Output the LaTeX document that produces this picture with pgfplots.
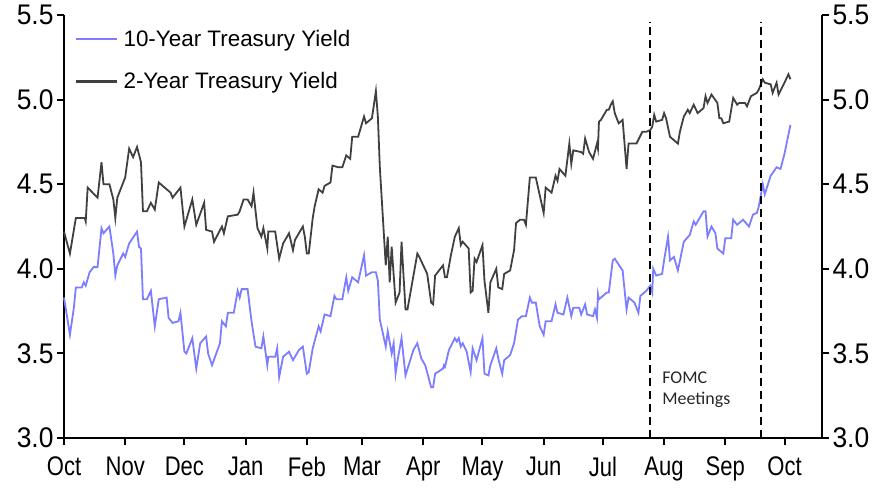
\documentclass[border=0pt]{standalone}
\usepackage{pgfplots}
\pgfplotsset{compat=1.18}
\usepackage{pgfplotstable}
\usepackage{fontspec}
\setmainfont{Liberation Sans}
\newfontfamily\xticksfont[FakeStretch=0.82]{Liberation Sans}
\newfontfamily\yticksfont[FakeStretch=0.93]{Liberation Sans}
\newfontfamily\fomcfont{Carlito}
\definecolor{tenyr}{RGB}{125,125,255}
\definecolor{twoyr}{RGB}{64,64,64}

% x = days since 1 Oct 2022
\pgfplotstableread{
day y
0 4.22
3 4.09
6 4.30
10.5 4.30
11 4.28
12 4.48
17 4.42
19 4.63
20 4.50
23 4.50
25 4.41
26 4.30
27 4.42
31 4.54
33 4.71
35 4.66
37 4.72
39 4.63
40 4.34
42 4.34
44 4.39
46 4.35
48 4.51
52 4.47
54 4.45
55 4.42
59 4.48
61 4.25
65 4.41
67 4.26
71 4.39
72 4.23
75 4.22
76 4.16
80 4.25
81 4.21
83 4.31
88 4.32
89 4.34
91 4.41
93 4.41
95 4.37
96 4.45
98 4.24
100 4.19
101 4.24
103 4.12
103.5 4.22
107 4.22
109 4.06
111 4.15
114 4.21
116 4.11
117 4.17
121 4.25
122 4.19
123 4.09
124 4.09
126 4.30
127 4.37
129 4.47
131 4.45
132 4.49
135 4.51
136 4.61
139 4.60
141 4.60
143 4.67
145 4.65
146 4.78
149 4.78
152 4.90
153 4.86
156 4.89
158 5.05
159 4.90
160 4.60
163 4.02
164 4.19
165 3.92
166 4.13
168 3.80
170 3.86
171 4.16
173 3.76
174 3.76
179 4.09
180 4.07
184 3.97
186 3.80
187 3.79
188 3.96
192 4.02
193 3.95
194 3.95
196 4.08
198 4.19
200 4.24
201 4.14
202 4.16
205 4.12
206 3.86
207 3.87
208 4.06
209 4.04
212 4.14
213 3.93
215 3.74
216 3.92
219 4.00
220 3.89
222 3.88
223 3.97
226 3.99
228 4.11
229 4.27
231 4.29
233 4.29
234 4.26
236 4.54
239 4.54
243 4.33
244 4.48
247 4.45
249 4.55
250 4.52
251 4.59
254 4.55
256 4.74
257 4.62
258 4.70
262 4.69
263 4.68
264 4.77
266 4.69
268 4.65
270 4.74
270.5 4.71
271 4.87
272 4.88
275 4.94
276 4.94
277 4.97
278 4.99
279 4.92
281 4.86
283 4.88
285 4.59
286 4.74
290 4.74
293 4.81
295 4.81
297 4.82
298 4.84
299 4.91
300 4.87
303 4.88
304 4.92
305 4.89
307 4.78
311 4.74
312 4.81
314 4.90
316 4.94
317 4.92
319 4.97
321 4.92
324 4.95
325 5.02
326 4.98
328 5.03
331 4.98
332 4.89
333 4.89
334 4.86
337 4.87
339 5.01
341 4.97
342 4.98
345 4.98
346 4.96
348 5.02
351 5.04
352 5.06
354 5.12
355 5.10
358 5.09
359 5.04
361 5.10
362 5.03
365 5.10
367 5.15
368 5.12
}\twoyear

\pgfplotstableread{
day y
0 3.83
3 3.61
5 3.77
6 3.89
9 3.89
10 3.92
11 3.90
13 3.98
15 4.01
17 4.01
19 4.24
20 4.21
23 4.25
25 4.09
26 3.96
27 4.02
30 4.09
31 4.07
33 4.15
37 4.22
38 4.13
39 4.12
40 3.82
42 3.82
44 3.87
46 3.66
48 3.82
52 3.83
53 3.71
55 3.68
58 3.69
59 3.74
61 3.51
62 3.50
65 3.59
67 3.41
69 3.56
72 3.60
73 3.50
75 3.43
79 3.56
80 3.69
82 3.66
83 3.74
86 3.74
88 3.87
89 3.83
90 3.88
93 3.88
95 3.69
97 3.54
100 3.53
101 3.60
103 3.43
103.5 3.48
107 3.48
108 3.53
109 3.36
111 3.48
114 3.51
116 3.46
119 3.52
121 3.54
123 3.38
124 3.39
126 3.53
129 3.66
130 3.63
132 3.73
135 3.72
137 3.84
138 3.82
141 3.82
143 3.95
144 3.87
146 3.95
149 3.92
152 4.08
153 3.96
156 3.98
158 3.98
159 3.93
160 3.70
163 3.54
164 3.63
166 3.50
167 3.56
168 3.38
169 3.46
171 3.59
173 3.37
177 3.52
179 3.56
181 3.47
183 3.43
186 3.30
187 3.30
188 3.38
192 3.41
192.5 3.43
193 3.42
195 3.52
198 3.59
199 3.57
200 3.59
201 3.54
202 3.56
204 3.51
206 3.39
207 3.53
209 3.46
212 3.59
213 3.38
215 3.37
216 3.43
219 3.53
220 3.47
222 3.38
223 3.46
226 3.49
228 3.56
230 3.70
232 3.72
234 3.72
236 3.83
237 3.80
239 3.80
241 3.66
243 3.61
244 3.69
247 3.69
249 3.79
250 3.74
253 3.73
255 3.83
257 3.72
258 3.77
261 3.77
262 3.73
264 3.79
265 3.73
268 3.72
269 3.76
270 3.71
270.5 3.85
271 3.82
275 3.86
276 3.86
278 4.05
279 4.06
283 3.99
283.5 3.93
285 3.76
286 3.83
289 3.80
291 3.74
292 3.84
295 3.87
297 3.90
298 3.86
298.5 4.00
300 3.96
303 3.97
304 4.05
306 4.19
307 4.05
309 4.07
311 3.99
314 4.16
317 4.20
319 4.28
320 4.26
324 4.34
325 4.34
326 4.19
328 4.25
330 4.21
331 4.12
334 4.09
335 4.18
338 4.18
339 4.29
341 4.26
344 4.29
347 4.25
349 4.32
351 4.33
352 4.37
354 4.50
355 4.44
358 4.55
361 4.60
363 4.59
365 4.68
368 4.85
}\tenyear

\pgfplotsset{
  common/.style={
    scale only axis, width=758bp, height=423bp,
    xmin=0, xmax=384, ymin=3, ymax=5.5,
    ytick={3,3.5,4,4.5,5,5.5},
    tick align=outside, major tick length=7bp,
    axis line style={line width=2bp, black},
    every tick/.style={line width=2bp, black},
    xticklabel style={font=\xticksfont\fontsize{27}{29}\selectfont, yshift=-8bp},
    yticklabel style={font=\yticksfont\fontsize{28.5}{30}\selectfont},
    /pgf/number format/assume math mode=true,
    yticklabel style={/pgf/number format/.cd, fixed, fixed zerofill, precision=1},
  }
}

\begin{document}
\begin{tikzpicture}
\begin{axis}[common, name=ax,
  axis x line*=bottom, axis y line*=left,
  xtick={0,31,61,92,123,151,182,212,243,273,304,335,365},
  xticklabels={Oct,Nov,Dec,Jan,Feb,Mar,Apr,May,Jun,Jul,Aug,Sep,Oct},
  legend style={at={(0.015,0.97)}, anchor=north west, draw=none, fill=none,
    font=\fontsize{22.5}{24}\selectfont, row sep=21bp, inner sep=0pt,
    /tikz/every odd column/.style={column sep=5bp}},
  legend cell align=left,
  legend image code/.code={\fill[#1, draw=none] (0bp,-1.2bp) rectangle (41bp,1.2bp);},
  clip=false,
]
\addplot[tenyr, line width=1.8bp] table[x=day, y=y] {\tenyear};
\addlegendentry{10-Year Treasury Yield}
\addplot[twoyr, line width=1.8bp] table[x=day, y=y] {\twoyear};
\addlegendentry{2-Year Treasury Yield}
\addplot[forget plot, black, line width=2bp, dash pattern=on 8bp off 5bp] coordinates {(297,3) (297,5.46)};
\addplot[forget plot, black, line width=2bp, dash pattern=on 8bp off 5bp] coordinates {(353,3) (353,5.46)};
\node[anchor=north west, align=left, inner sep=0pt, font=\fomcfont\fontsize{18}{20.5}\selectfont, text=black!85]
  at (axis cs:303,3.39) {FOMC\\Meetings};
\end{axis}
\begin{axis}[common,
  axis x line=none, axis y line*=right,
]
\end{axis}
\pgfresetboundingbox
\useasboundingbox ([shift={(-64bp,-53bp)}]ax.south west) rectangle ([shift={(64bp,15bp)}]ax.north east);
\end{tikzpicture}
\end{document}
